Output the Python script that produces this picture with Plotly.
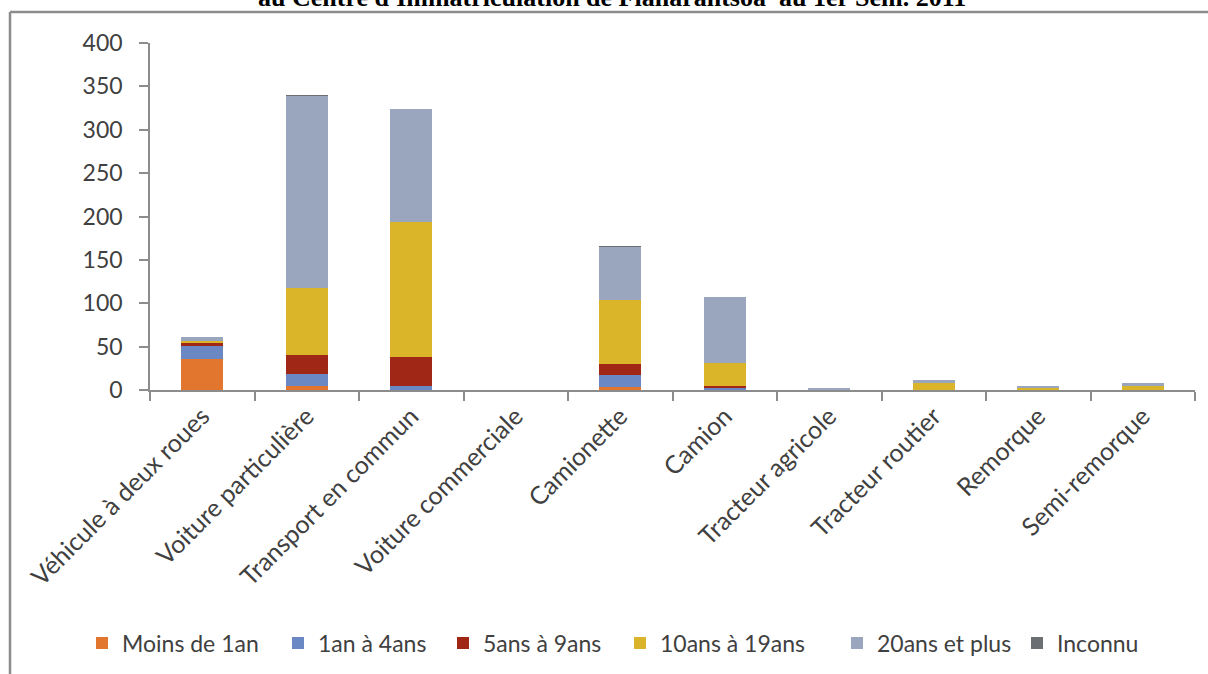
import plotly.graph_objects as go

categories = ["Véhicule à deux roues", "Voiture particulière", "Transport en commun",
              "Voiture commerciale", "Camionette", "Camion", "Tracteur agricole",
              "Tracteur routier", "Remorque", "Semi-remorque"]

moins_1an   = [36, 5, 0, 0, 3, 0, 0, 0, 0, 0]
an1_4       = [15, 14, 5, 0, 14, 3, 0, 0, 0, 0]
ans5_9      = [3, 21, 33, 0, 13, 2, 0, 0, 0, 0]
ans10_19    = [3, 78, 156, 0, 74, 26, 0, 8, 2, 5]
ans20_plus  = [4, 221, 130, 0, 61, 76, 2, 3, 3, 3]
inconnu     = [0, 1, 0, 0, 1, 0, 0, 0, 0, 0]

series_names = ["Moins de 1an", "1an à 4ans", "5ans à 9ans", "10ans à 19ans",
                "20ans et plus", "Inconnu"]
series_values = [moins_1an, an1_4, ans5_9, ans10_19, ans20_plus, inconnu]
series_colors = ["#E2762F", "#6A89C4", "#A02716", "#DAB52A", "#9AA5BE", "#6B6E72"]

# pixel x where each legend text starts (layout only)
legend_text_x = [122, 318, 483, 660, 877, 1057]

W, H = 1208, 674
L, R, T, B = 150, 13, 43, 284
pw, ph = W - L - R, H - T - B

def px(x):
    return (x - L) / pw

def py(y):
    return (H - B - y) / ph

FAM = "Lato, Open Sans, sans-serif"
ytick_font = dict(family=FAM, size=23, color="#404040")
xtick_font = dict(family=FAM, size=25, color="#404040")
leg_font = dict(family=FAM, size=23, color="#404040")

fig = go.Figure()
legend_layouts = {}
for i, (name, vals, col) in enumerate(zip(series_names, series_values, series_colors)):
    lname = "legend" if i == 0 else f"legend{i+1}"
    fig.add_trace(go.Bar(x=categories, y=vals, name=name, marker_color=col,
                         marker_line_width=0, width=0.4, legend=lname))
    legend_layouts[lname] = dict(
        orientation="h", x=px(legend_text_x[i] - 40), xanchor="left",
        y=py(643), yanchor="middle", font=leg_font,
        itemwidth=30, bgcolor="rgba(0,0,0,0)")

fig.update_layout(
    width=W, height=H,
    margin=dict(l=L, r=R, t=T, b=B, autoexpand=False),
    barmode="stack",
    bargap=0.6,
    plot_bgcolor="white", paper_bgcolor="white",
    font=ytick_font,
    showlegend=True,
    xaxis=dict(showgrid=False, showline=True, linecolor="#8C8C8C", linewidth=1.5,
               ticks="outside", ticklen=9, tickcolor="#8C8C8C", tickwidth=1.5,
               tickson="boundaries", tickangle=-45, tickfont=xtick_font),
    yaxis=dict(range=[0, 400], dtick=50, showgrid=False, showline=True,
               linecolor="#8C8C8C", linewidth=1.5, ticks="outside", ticklen=9,
               tickcolor="#8C8C8C", tickwidth=1.5, tickfont=ytick_font,
               ticklabelstandoff=12, zeroline=False),
    shapes=[
        dict(type="line", xref="paper", yref="paper", x0=px(10), x1=px(10),
             y0=py(12), y1=py(700), line=dict(color="#8C8C8C", width=2.5)),
        dict(type="line", xref="paper", yref="paper", x0=px(10), x1=px(1220),
             y0=py(12), y1=py(12), line=dict(color="#8C8C8C", width=2.5)),
    ],
    annotations=[
        dict(text="au Centre d'Immatriculation de Fianarantsoa  au 1er Sem. 2011",
             xref="paper", yref="paper", x=px(612), y=py(14), xanchor="center",
             yanchor="bottom", showarrow=False,
             font=dict(family="Liberation Serif, Times New Roman, serif", size=26,
                       color="black", weight="bold")),
    ],
)
fig.update_layout(**legend_layouts)

fig.write_html("out.html", config={"displayModeBar": False},
               post_script="document.body.style.margin='0';document.body.style.padding='0';")
